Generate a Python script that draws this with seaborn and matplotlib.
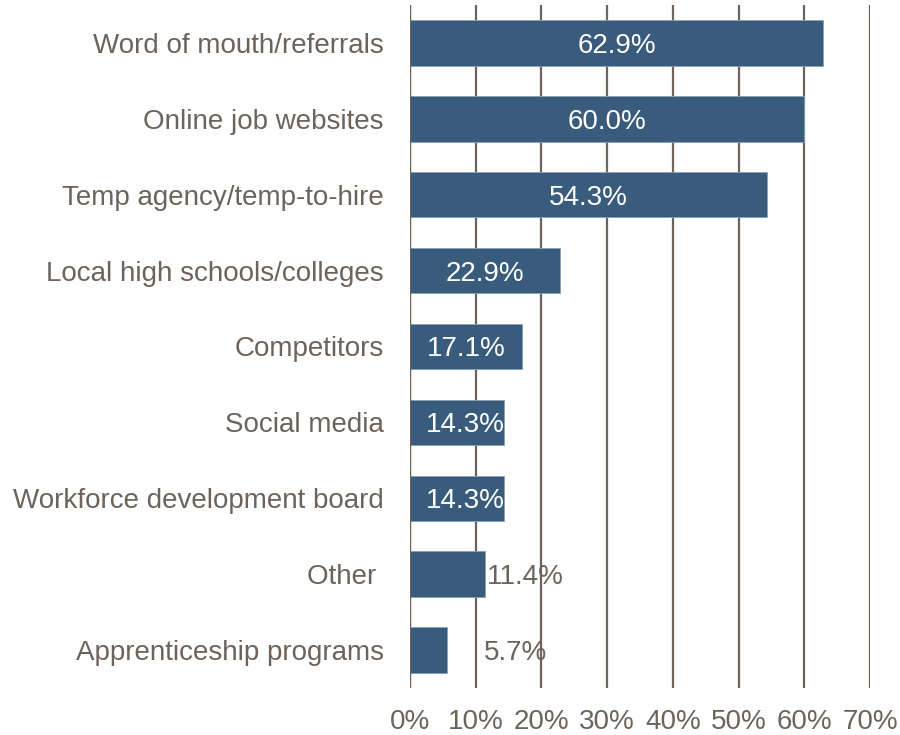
import matplotlib
matplotlib.use("Agg")
import matplotlib.pyplot as plt
import seaborn as sns
import pandas as pd

categories = [
    "Word of mouth/referrals",
    "Online job websites",
    "Temp agency/temp-to-hire",
    "Local high schools/colleges",
    "Competitors",
    "Social media",
    "Workforce development board",
    "Other ",
    "Apprenticeship programs",
]
values = [62.9, 60.0, 54.3, 22.9, 17.1, 14.3, 14.3, 11.4, 5.7]
x_ticks = [0, 10, 20, 30, 40, 50, 60, 70]
x_tick_labels = ["0%", "10%", "20%", "30%", "40%", "50%", "60%", "70%"]

BAR = "#395b7c"
TEXT = "#6e635b"
GRID = "#6e625a"

sns.set_theme(style="white")
plt.rcParams["font.family"] = ["Liberation Sans", "DejaVu Sans"]

df = pd.DataFrame({"source": categories, "share": values})

fig = plt.figure(figsize=(9, 7.35), dpi=100)
ax = fig.add_axes([410 / 900, 1 - 688 / 735, 460 / 900, 683 / 735])

sns.barplot(data=df, y="source", x="share", orient="h", color=BAR,
            saturation=1, width=0.6, ax=ax, zorder=3,
            edgecolor="#8aa0b5", linewidth=0.6)

ax.set_xlim(0, 70)
ax.set_xticks(x_ticks)
ax.set_xticklabels(x_tick_labels)
ax.xaxis.grid(True, color=GRID, linewidth=1.6, zorder=0)
ax.yaxis.grid(False)
ax.set_axisbelow(True)
for s in ax.spines.values():
    s.set_visible(False)
# baseline line at 0% stays visible along the bars' left edges
ax.axvline(0, color=GRID, linewidth=1.6, zorder=4)
ax.set_xlabel("")
ax.set_ylabel("")
ax.tick_params(axis="x", length=0, pad=15, labelsize=20, labelcolor=TEXT)
ax.tick_params(axis="y", length=0, pad=19, labelsize=20, labelcolor=TEXT)

# value labels: inside (white) for wide bars, outside (grey) for narrow ones
for i, v in enumerate(values):
    if v >= 14:
        ax.text(max(v / 2, 8.4), i, f"{v:.1f}%", ha="center",
                va="center_baseline", color="white", fontsize=20, zorder=5)
    else:
        ax.text(max(v, 11.0) + 0.3, i, f"{v:.1f}%", ha="left",
                va="center_baseline", color=TEXT, fontsize=20, zorder=5)

fig.savefig("out.png", dpi=100, facecolor="white")
